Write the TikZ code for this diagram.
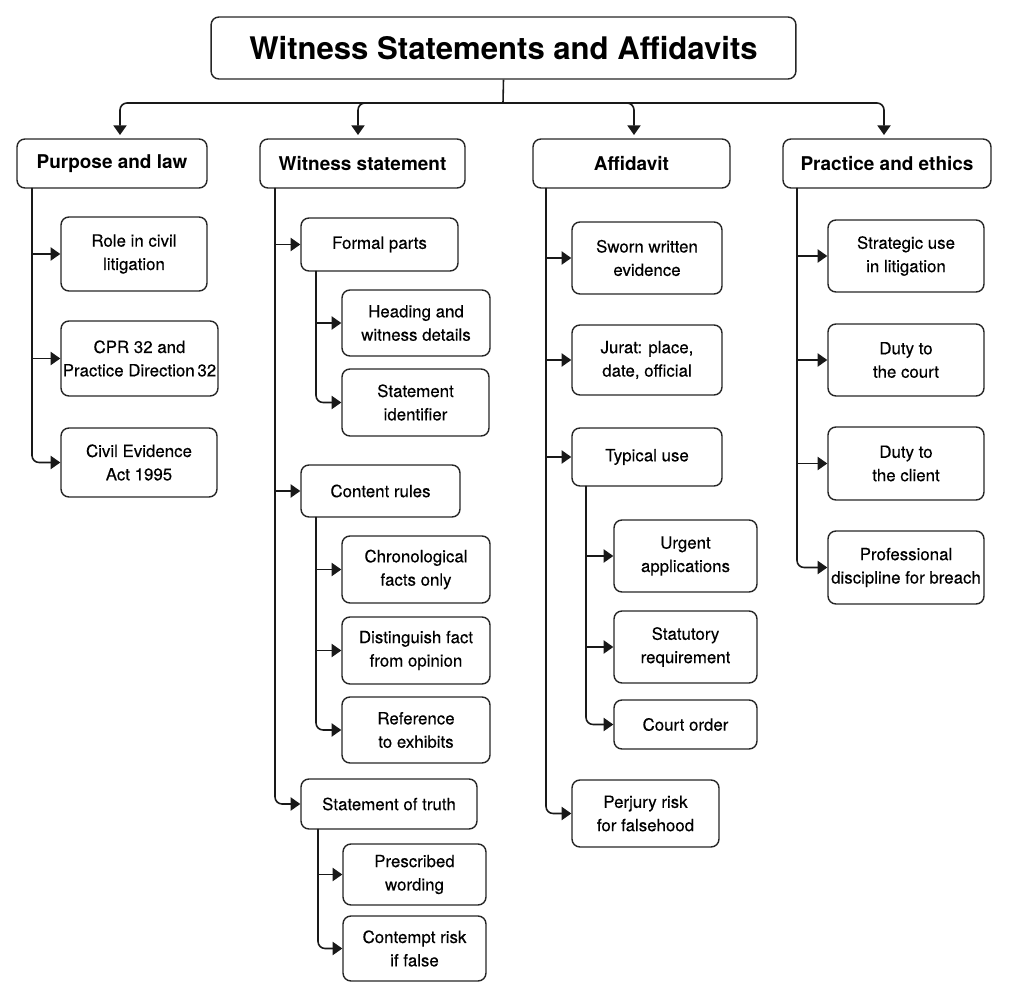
\documentclass[tikz,border=0pt]{standalone}
\usepackage{fontspec}
\setmainfont{TeX Gyre Heros}
\newfontfamily\leaffont[FakeBold=0.3]{TeX Gyre Heros}
\usetikzlibrary{arrows.meta,positioning}

\tikzset{
  box/.style={draw=black!85, line width=0.8pt, rounded corners=4.5pt, fill=white, align=center, inner sep=2pt},
  titlebox/.style={box, font=\fontsize{17.7}{20}\selectfont\bfseries},
  head/.style={box, font=\fontsize{10.8}{13}\selectfont\bfseries, minimum height=0.98cm},
  leaf/.style={box, font=\leaffont\fontsize{9.6}{13.3}\selectfont},
  wire/.style={draw=black!90, line width=0.9pt},
  link/.style={wire, -{Triangle[length=5.5pt,width=7.5pt]}},
}

\begin{document}
\begin{tikzpicture}[x=0.02cm, y=-0.02cm]
\useasboundingbox (0,0) rectangle (1009,1000);

% title
\node[titlebox, minimum width=11.7cm, minimum height=1.24cm] (title) at (503.5,48) {Witness Statements and Affidavits};

% main branches
\node[head, minimum width=3.8cm] (pl) at (112,163.5) {Purpose and law};
\node[head, minimum width=4.1cm] (ws) at (362.5,163.5) {Witness statement};
\node[head, minimum width=3.94cm] (af) at (631.5,163.5) {Affidavit};
\node[head, minimum width=4.16cm] (pe) at (887,163.5) {Practice and ethics};

\coordinate (bus) at (503,103);
\draw[wire] (title.south) -- (bus);
\draw[link, rounded corners=4pt] (bus) -| (120,135);
\draw[link, rounded corners=4pt] (bus) -| (358,135);
\draw[link, rounded corners=4pt] (bus) -| (634,135);
\draw[link, rounded corners=4pt] (bus) -| (884,135);

% purpose and law
\node[leaf, minimum width=2.92cm, minimum height=1.48cm] (role) at (134,254) {Role in civil\\litigation};
\node[leaf, minimum width=3.14cm, minimum height=1.5cm, inner xsep=0pt] (cpr) at (139.5,358.5) {CPR 32 and\\Practice Direction\,32};
\node[leaf, minimum width=3.12cm, minimum height=1.38cm] (cea) at (139,462.5) {Civil Evidence\\Act 1995};

\coordinate (plx) at (32,188);
\draw[link] (plx |- role.west) -- (role.west);
\draw[link] (plx |- cpr.west) -- (cpr.west);
\draw[link, rounded corners=4pt] (plx) |- (cea.west);

% witness statement
\node[leaf, minimum width=3.14cm, minimum height=1.06cm] (fp) at (379.5,244.5) {Formal parts};
\node[leaf, minimum width=2.96cm, minimum height=1.32cm] (hd) at (416,323) {Heading and\\witness details};
\node[leaf, minimum width=2.94cm, minimum height=1.34cm] (si) at (415.5,402.5) {Statement\\identifier};
\node[leaf, minimum width=3.18cm, minimum height=1.04cm] (cr) at (380.5,491) {Content rules};
\node[leaf, minimum width=2.96cm, minimum height=1.34cm] (cf) at (416,569.5) {Chronological\\facts only};
\node[leaf, minimum width=2.96cm, minimum height=1.34cm] (df) at (416,650.5) {Distinguish fact\\from opinion};
\node[leaf, minimum width=2.96cm, minimum height=1.32cm] (re) at (416,730) {Reference\\to exhibits};
\node[leaf, minimum width=3.52cm, minimum height=1.0cm] (st) at (389,804) {Statement of truth};
\node[leaf, minimum width=2.86cm, minimum height=1.22cm] (pw) at (414.5,874.5) {Prescribed\\wording};
\node[leaf, minimum width=2.86cm, minimum height=1.3cm] (cp) at (414.5,948.5) {Contempt risk\\if false};

\coordinate (wsx) at (275,188);
\draw[link] (wsx |- fp.west) -- (fp.west);
\draw[link] (wsx |- cr.west) -- (cr.west);
\draw[link, rounded corners=4pt] (wsx) |- (st.west);

\coordinate (fpx) at (316,271);
\draw[link] (fpx |- hd.west) -- (hd.west);
\draw[link, rounded corners=4pt] (fpx) |- (si.west);

\coordinate (crx) at (316,517);
\draw[link] (crx |- cf.west) -- (cf.west);
\draw[link] (crx |- df.west) -- (df.west);
\draw[link, rounded corners=4pt] (crx) |- (re.west);

\coordinate (stx) at (318,829);
\draw[link] (stx |- pw.west) -- (pw.west);
\draw[link, rounded corners=4pt] (stx) |- (cp.west);

% affidavit
\node[leaf, minimum width=3.0cm, minimum height=1.44cm] (sw) at (647,258) {Sworn written\\evidence};
\node[leaf, minimum width=3.0cm, minimum height=1.4cm] (ju) at (647,360) {Jurat: place,\\date, official};
\node[leaf, minimum width=3.0cm, minimum height=1.16cm] (tu) at (647,457) {Typical use};
\node[leaf, minimum width=2.86cm, minimum height=1.44cm] (ua) at (685.5,556) {Urgent\\applications};
\node[leaf, minimum width=2.86cm, minimum height=1.44cm] (sr) at (685.5,647) {Statutory\\requirement};
\node[leaf, minimum width=2.86cm, minimum height=0.98cm] (co) at (685.5,724.5) {Court order};
\node[leaf, minimum width=2.94cm, minimum height=1.34cm] (pj) at (645.5,813.5) {Perjury risk\\for falsehood};

\coordinate (afx) at (546,188);
\draw[link] (afx |- sw.west) -- (sw.west);
\draw[link] (afx |- ju.west) -- (ju.west);
\draw[link] (afx |- tu.west) -- (tu.west);
\draw[link, rounded corners=4pt] (afx) |- (pj.west);

\coordinate (tux) at (586,486);
\draw[link] (tux |- ua.west) -- (ua.west);
\draw[link] (tux |- sr.west) -- (sr.west);
\draw[link, rounded corners=4pt] (tux) |- (co.west);

% practice and ethics
\node[leaf, minimum width=3.12cm, minimum height=1.44cm] (su) at (906,256) {Strategic use\\in litigation};
\node[leaf, minimum width=3.12cm, minimum height=1.44cm] (dc) at (906,360) {Duty to\\the court};
\node[leaf, minimum width=3.12cm, minimum height=1.46cm] (dl) at (906,463.5) {Duty to\\the client};
\node[leaf, minimum width=3.12cm, minimum height=1.46cm, inner xsep=1pt] (pd) at (906,567.5) {Professional\\discipline for breach};

\coordinate (pex) at (797,188);
\draw[link] (pex |- su.west) -- (su.west);
\draw[link] (pex |- dc.west) -- (dc.west);
\draw[link] (pex |- dl.west) -- (dl.west);
\draw[link, rounded corners=4pt] (pex) |- (pd.west);
\end{tikzpicture}
\end{document}
